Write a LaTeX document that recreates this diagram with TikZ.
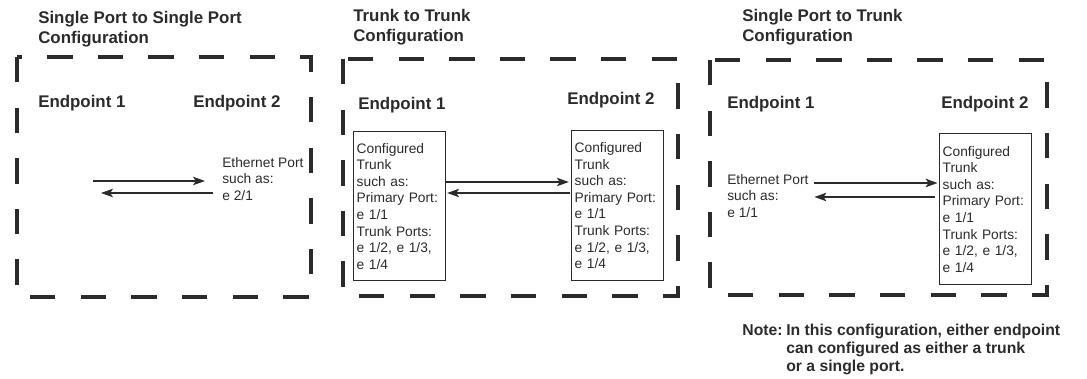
\documentclass[tikz,border=0pt]{standalone}
\usepackage{fontspec}
\setmainfont{Liberation Sans}
\usetikzlibrary{arrows.meta,positioning,calc}
\definecolor{ink}{HTML}{2B2B2B}

\begin{document}
\begin{tikzpicture}[
    x=0.025cm, y=-0.025cm,
    frame/.style={draw=ink, line width=2.8pt, dash pattern=on 18pt off 18pt},
    ttl/.style={font=\fontsize{12}{14.2}\selectfont\bfseries, text=ink, align=left, anchor=west, inner sep=0pt},
    endp/.style={font=\fontsize{12}{14.2}\selectfont\bfseries, text=ink, anchor=west, inner sep=0pt},
    port/.style={font=\fontsize{9.8}{11.8}\selectfont, text=ink, align=left, anchor=west, inner sep=0pt},
    trunk/.style={draw=ink, line width=1pt, font=\fontsize{9.8}{11.8}\selectfont, text=ink, align=left, anchor=north west, text width=2.15cm, inner xsep=0.075cm, minimum height=3.725cm},
    arr/.style={draw=ink, line width=1.05pt, -{Stealth[length=8.5pt, width=6pt, inset=2pt]}},
    notetxt/.style={font=\fontsize{11.2}{12.8}\selectfont\bfseries, text=ink, align=left, inner sep=0pt}
]
\useasboundingbox (0,0) rectangle (1087,379);

% single port to single port
\draw[frame] (17,57) rectangle (311,297);
\node[ttl] (ttl1) at (38,29.5) {Single Port to Single Port\\Configuration};
\node[endp] (ep11) at (38,103) {Endpoint 1};
\node[endp] (ep12) at (193,103) {Endpoint 2};
\node[port] (eth1) at (222,179) {Ethernet Port\\such as:\\e 2/1};
\coordinate (a1s) at (93,181);
\coordinate (a1e) at (205,181);
\coordinate (b1s) at (213,193);
\coordinate (b1e) at (101,193);
\draw[arr] (a1s) -- (a1e);
\draw[arr] (b1s) -- (b1e);

% trunk to trunk
\draw[frame] (343,59) rectangle (678,296);
\node[ttl] (ttl2) at (353,27) {Trunk to Trunk\\Configuration};
\node[endp] (ep21) at (358,105) {Endpoint 1};
\node[endp] (ep22) at (567,100) {Endpoint 2};
\node[trunk] (t2a) at (353,131) {Configured\\Trunk\\such as:\\Primary Port:\\e 1/1\\Trunk Ports:\\e 1/2, e 1/3,\\e 1/4};
\node[trunk, minimum height=3.75cm] (t2b) at (571,130) {Configured\\Trunk\\such as:\\Primary Port:\\e 1/1\\Trunk Ports:\\e 1/2, e 1/3,\\e 1/4};
\coordinate (r2a) at (0,182);
\coordinate (r2b) at (0,193);
\draw[arr, shorten >=1.5pt] (t2a.east |- r2a) -- (t2b.west |- r2a);
\draw[arr, shorten >=0.5pt, shorten <=1pt] (t2b.west |- r2b) -- (t2a.east |- r2b);

% single port to trunk
\draw[frame] (710,60) rectangle (1047,295);
\node[ttl] (ttl3) at (742,27) {Single Port to Trunk\\Configuration};
\node[endp] (ep31) at (727,104) {Endpoint 1};
\node[endp] (ep32) at (941,104) {Endpoint 2};
\node[port] (eth3) at (727,196) {Ethernet Port\\such as:\\e 1/1};
\node[trunk, minimum height=3.775cm] (t3) at (939,133) {Configured\\Trunk\\such as:\\Primary Port:\\e 1/1\\Trunk Ports:\\e 1/2, e 1/3,\\e 1/4};
\coordinate (r3a) at (0,183);
\coordinate (r3b) at (0,197);
\draw[arr, shorten <=4pt, shorten >=1pt] (eth3.east |- r3a) -- (t3.west |- r3a);
\draw[arr, shorten <=3pt, shorten >=4pt] (t3.west |- r3b) -- (eth3.east |- r3b);

\node[notetxt, anchor=north west] (note) at (786,324) {In this configuration, either endpoint\\can configured as either a trunk\\or a single port.};
\node[notetxt, anchor=north east] (notelbl) at ([xshift=-0.075cm]note.north west) {Note:};
\end{tikzpicture}
\end{document}
